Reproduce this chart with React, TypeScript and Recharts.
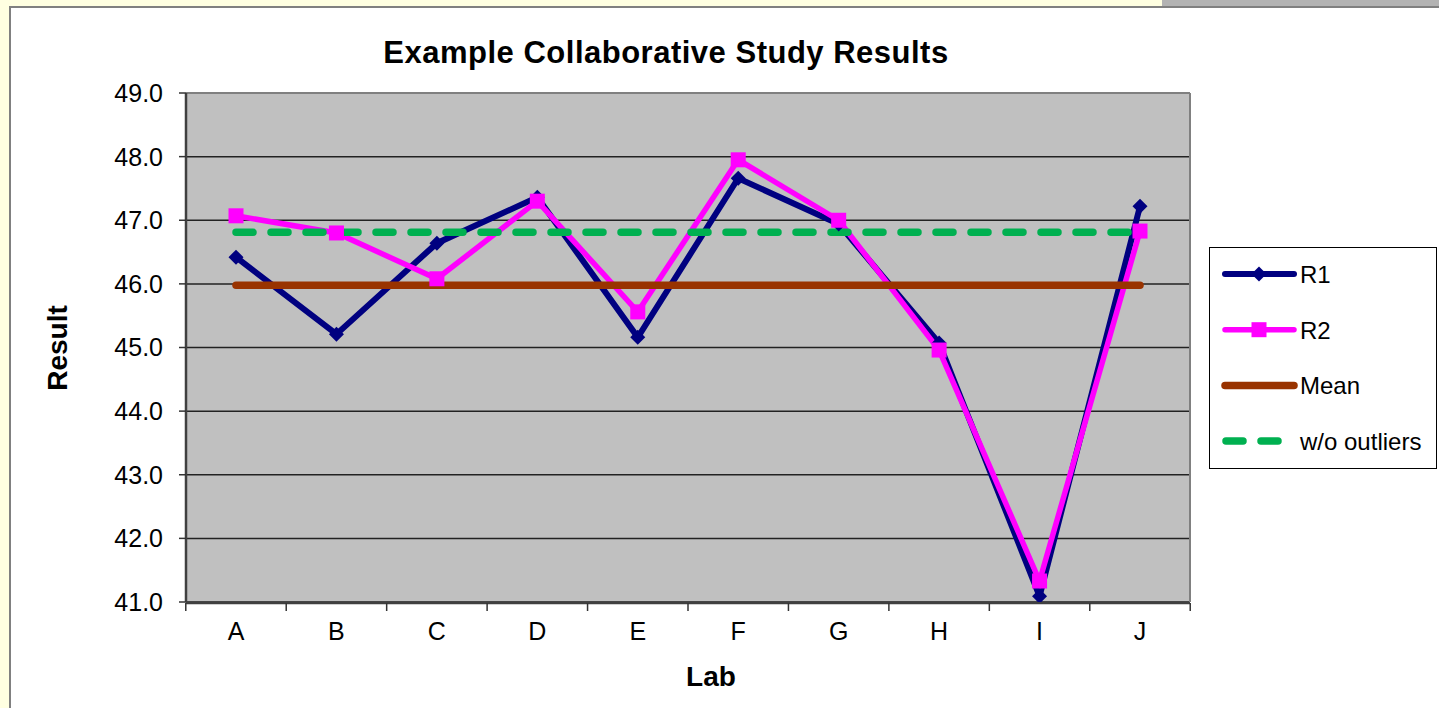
import { LineChart, Line, XAxis, YAxis, CartesianGrid } from "recharts";

const labs = ["A", "B", "C", "D", "E", "F", "G", "H", "I", "J"];
const r1 = [46.42, 45.21, 46.64, 47.36, 45.16, 47.66, 46.94, 45.07, 41.09, 47.22];
const r2 = [47.07, 46.8, 46.08, 47.3, 45.56, 47.95, 47.0, 44.96, 41.33, 46.83];
const overallMean = 45.98;
const meanWithoutOutliers = 46.81;
const yTicks = [41, 42, 43, 44, 45, 46, 47, 48, 49];
// tick marks sit between the lab categories
const bandEdges = [-0.5, 0.5, 1.5, 2.5, 3.5, 4.5, 5.5, 6.5, 7.5, 8.5, 9.5];

const data = labs.map((lab, i) => ({
  lab,
  r1: r1[i],
  r2: r2[i],
  mean: overallMean,
  trimmed: meanWithoutOutliers,
}));

const FONT = '"Liberation Sans", Arial, sans-serif';
const NAVY = "#000080";
const MAGENTA = "#FF00FF";
const BROWN = "#993300";
const GREEN = "#00B050";

function Diamond({ cx, cy }: any) {
  if (cx == null || cy == null) return null;
  const s = 7.5;
  return (
    <polygon
      points={`${cx},${cy - s} ${cx + s},${cy} ${cx},${cy + s} ${cx - s},${cy}`}
      fill={NAVY}
    />
  );
}

function Square({ cx, cy }: any) {
  if (cx == null || cy == null) return null;
  return <rect x={cx - 7.5} y={cy - 7.5} width={15} height={15} fill={MAGENTA} />;
}

const noTick = () => <g />;

function Overlay() {
  const items = [
    { name: "R1", color: NAVY, w: 6, marker: "diamond" },
    { name: "R2", color: MAGENTA, w: 5.5, marker: "square" },
    { name: "Mean", color: BROWN, w: 7.5, marker: "" },
    { name: "w/o outliers", color: GREEN, w: 7.5, marker: "", dash: "17 18" },
  ];
  return (
    <svg
      width={1439}
      height={708}
      style={{ position: "absolute", left: 0, top: 0, pointerEvents: "none" }}
      fontFamily={FONT}
    >
      <text
        x={666}
        y={63}
        textAnchor="middle"
        fontSize={31}
        letterSpacing={0.5}
        fontWeight="bold"
        fill="#000"
      >
        Example Collaborative Study Results
      </text>
      <text x={711} y={686} textAnchor="middle" fontSize={28} fontWeight="bold" fill="#000">
        Lab
      </text>
      <text
        transform="translate(67,348) rotate(-90)"
        textAnchor="middle"
        fontSize={28}
        fontWeight="bold"
        fill="#000"
      >
        Result
      </text>
      <rect x={1209.5} y={247.5} width={227} height={221} fill="#fff" stroke="#000" strokeWidth={1} />
      {items.map((it, i) => {
        const y = 274 + i * 55.7;
        return (
          <g key={it.name}>
            <line
              x1={it.dash ? 1226 : 1225}
              x2={1294}
              y1={y}
              y2={y}
              stroke={it.color}
              strokeWidth={it.w}
              strokeLinecap="round"
              strokeDasharray={it.dash}
            />
            {it.marker === "diamond" && <Diamond cx={1259} cy={y} />}
            {it.marker === "square" && <Square cx={1259} cy={y} />}
            <text x={1300} y={y + 9} fontSize={24} fill="#000">
              {it.name}
            </text>
          </g>
        );
      })}
    </svg>
  );
}

export default function App() {
  return (
    <div
      style={{
        position: "fixed",
        left: 0,
        top: 0,
        width: 1439,
        height: 708,
        background: "#FFFFE1",
        overflow: "hidden",
        fontFamily: FONT,
      }}
    >
      <div
        style={{
          position: "absolute",
          left: 1162,
          top: 0,
          width: 277,
          height: 6,
          background: "#B3B3B3",
        }}
      />
      <div
        style={{
          position: "absolute",
          left: 9,
          top: 6,
          width: 1460,
          height: 720,
          background: "#fff",
          borderLeft: "2px solid #808080",
          borderTop: "2px solid #808080",
        }}
      />
      <div style={{ position: "absolute", left: 0, top: 0 }}>
        <LineChart
          width={1439}
          height={708}
          data={data}
          margin={{ top: 92, right: 248, bottom: 104, left: 126 }}
        >
          <CartesianGrid vertical={false} stroke="#222" strokeWidth={1.5} fill="#C0C0C0" />
          <XAxis
            xAxisId="marks"
            type="number"
            domain={[0, labs.length - 1]}
            ticks={bandEdges}
            allowDataOverflow
            padding={{ left: 50, right: 50 }}
            height={1}
            tick={noTick}
            tickSize={8}
            tickLine={{ stroke: "#333", strokeWidth: 1.5 }}
            axisLine={{ stroke: "#404040", strokeWidth: 2.5 }}
          />
          <XAxis
            dataKey="lab"
            height={1}
            padding={{ left: 50, right: 50 }}
            tickLine={false}
            axisLine={false}
            tickSize={8}
            tickMargin={12}
            interval={0}
            tick={{ fill: "#000", fontSize: 25, fontFamily: FONT }}
          />
          <XAxis
            xAxisId="top"
            orientation="top"
            height={1}
            dataKey="lab"
            tick={noTick}
            tickLine={false}
            axisLine={{ stroke: "#808080", strokeWidth: 2 }}
          />
          <YAxis
            domain={[41, 49]}
            ticks={yTicks}
            allowDataOverflow
            width={60}
            tickSize={7}
            tickMargin={16}
            tickFormatter={(v: number) => v.toFixed(1)}
            tick={{ fill: "#000", fontSize: 25, fontFamily: FONT }}
            tickLine={{ stroke: "#333", strokeWidth: 1.5 }}
            axisLine={{ stroke: "#404040", strokeWidth: 2.5 }}
          />
          <YAxis
            yAxisId="right"
            orientation="right"
            domain={[41, 49]}
            width={1}
            tick={noTick}
            tickLine={false}
            axisLine={{ stroke: "#808080", strokeWidth: 2 }}
          />
          <Line
            type="linear"
            dataKey="r1"
            stroke={NAVY}
            strokeWidth={6}
            dot={<Diamond />}
            isAnimationActive={false}
          />
          <Line
            type="linear"
            dataKey="r2"
            stroke={MAGENTA}
            strokeWidth={5.5}
            dot={<Square />}
            isAnimationActive={false}
          />
          <Line
            type="linear"
            dataKey="mean"
            stroke={BROWN}
            strokeWidth={7.5}
            strokeLinecap="round"
            dot={false}
            isAnimationActive={false}
          />
          <Line
            type="linear"
            dataKey="trimmed"
            stroke={GREEN}
            strokeWidth={7.5}
            strokeLinecap="round"
            strokeDasharray="17 18"
            dot={false}
            isAnimationActive={false}
          />
        </LineChart>
      </div>
      <Overlay />
    </div>
  );
}
